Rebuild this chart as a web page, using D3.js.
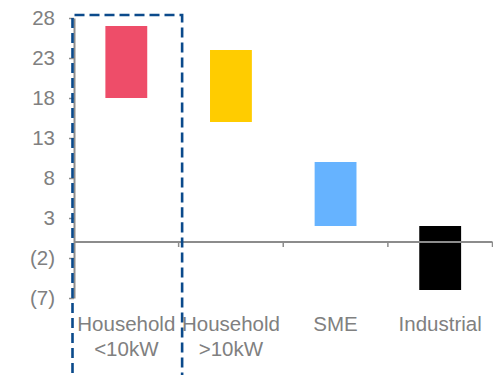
<!DOCTYPE html>
<html>
<head>
<meta charset="utf-8">
<script src="https://cdn.jsdelivr.net/npm/d3@7"></script>
<style>
  html, body { margin: 0; padding: 0; background: #fff; }
  svg { display: block; }
</style>
</head>
<body>
<svg id="chart" width="493" height="375"></svg>
<script>
// Floating range bars per customer segment
const categories = ["Household <10kW", "Household >10kW", "SME", "Industrial"];
const labelLines = [["Household", "<10kW"], ["Household", ">10kW"], ["SME"], ["Industrial"]];
const lowValues = [18, 15, 2, -6];
const highValues = [27, 24, 10, 2];
const barColors = ["#EE4D69", "#FFCC00", "#66B3FF", "#000000"];
const yTicks = [28, 23, 18, 13, 8, 3, -2, -7];

const svg = d3.select("#chart");
const plotLeft = 74, plotRight = 492.5, plotTop = 18, plotBottom = 298;

const x = d3.scaleBand().domain(categories).range([plotLeft, plotRight]).padding(0);
const y = d3.scaleLinear().domain([-7, 28]).range([plotBottom, plotTop]);

const fmt = v => v < 0 ? "(" + Math.abs(v) + ")" : String(v);
const grey = "#8c8c8c";
const textGrey = "#808080";
const fontSize = "20.5px";

// Bars
svg.append("g").selectAll("rect")
  .data(categories)
  .join("rect")
  .attr("x", (d) => x(d) + x.bandwidth() * 0.3)
  .attr("width", x.bandwidth() * 0.4)
  .attr("y", (d, i) => y(highValues[i]))
  .attr("height", (d, i) => y(lowValues[i]) - y(highValues[i]))
  .attr("fill", (d, i) => barColors[i]);

// Y axis
const yAxis = svg.append("g")
  .attr("transform", `translate(${plotLeft},0)`)
  .call(d3.axisLeft(y).tickValues(yTicks).tickFormat(fmt).tickSize(5).tickSizeOuter(0).tickPadding(14));
yAxis.select(".domain").attr("stroke", grey).attr("stroke-width", 2);
yAxis.selectAll(".tick line").attr("stroke", grey).attr("stroke-width", 1.5);
yAxis.selectAll(".tick text")
  .attr("fill", textGrey)
  .style("font-family", "Liberation Sans, Arial, sans-serif")
  .style("font-size", fontSize);

// X axis along zero
const xAxisG = svg.append("g").attr("transform", `translate(0,${y(0)})`);
xAxisG.append("line")
  .attr("x1", plotLeft).attr("x2", plotRight)
  .attr("stroke", grey).attr("stroke-width", 2);
xAxisG.selectAll("line.sep")
  .data(categories)
  .join("line")
  .attr("class", "sep")
  .attr("x1", d => x(d) + x.bandwidth())
  .attr("x2", d => x(d) + x.bandwidth())
  .attr("y1", 0).attr("y2", 5)
  .attr("stroke", grey).attr("stroke-width", 1.5);

// Category labels
const labels = svg.append("g")
  .style("font-family", "Liberation Sans, Arial, sans-serif")
  .style("font-size", fontSize)
  .attr("fill", textGrey)
  .attr("text-anchor", "middle");
labels.selectAll("text")
  .data(categories)
  .join("text")
  .attr("x", d => x(d) + x.bandwidth() / 2)
  .attr("y", 331)
  .each(function(d, i) {
    d3.select(this).selectAll("tspan")
      .data(labelLines[i])
      .join("tspan")
      .attr("x", x(d) + x.bandwidth() / 2)
      .attr("dy", (t, j) => j === 0 ? 0 : 25)
      .text(t => t);
  });

// Dashed highlight around the first segment
svg.append("path")
  .attr("d", `M${plotLeft - 1.5},${y(28) + 400} V${y(28) - 3} H${x(categories[0]) + x.bandwidth() + 3.5} V${y(28) + 400}`)
  .attr("fill", "none")
  .attr("stroke", "#0B4A8B")
  .attr("stroke-width", 2.6)
  .attr("stroke-dasharray", "10,5");
</script>
</body>
</html>
